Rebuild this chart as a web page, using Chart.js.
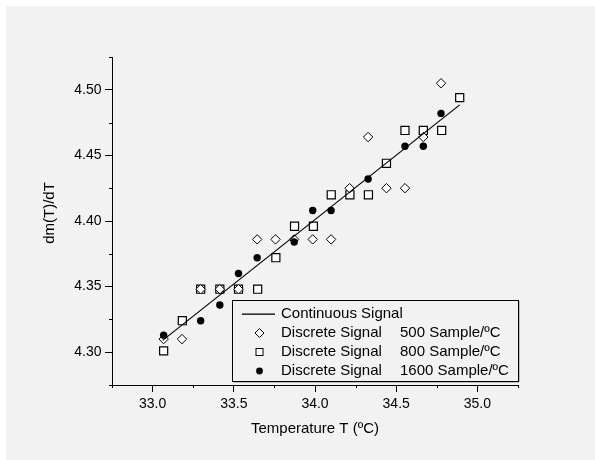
<!DOCTYPE html>
<html>
<head>
<meta charset="utf-8">
<script src="https://cdn.jsdelivr.net/npm/chart.js@4/dist/chart.umd.min.js"></script>
<style>
  html, body { margin: 0; padding: 0; background: #fff; }
  #wrap { width: 595px; height: 460px; }
</style>
</head>
<body>
<div id="wrap"><canvas id="slopeChart" width="595" height="460"></canvas></div>
<script>
// --- data ---
const xTickLabels = ['33.0', '33.5', '34.0', '34.5', '35.0'];
const yTickLabels = ['4.30', '4.35', '4.40', '4.45', '4.50'];

const seriesNames = ['Continuous Signal', 'Discrete Signal', 'Discrete Signal', 'Discrete Signal'];
const sampleRates = ['', '500 Sample/\u00baC', '800 Sample/\u00baC', '1600 Sample/\u00baC'];

// continuous signal (straight fit line)
const tempLine = [33.062, 34.891];
const slopeLine = [4.309, 4.4885];

// 500 samples / ºC
const temp500 = [33.068, 33.181, 33.296, 33.414, 33.529, 33.644, 33.757, 33.872, 33.986, 34.099, 34.213, 34.327, 34.440, 34.554, 34.667, 34.776];
const slope500 = [4.310, 4.310, 4.348, 4.348, 4.348, 4.386, 4.386, 4.386, 4.386, 4.386, 4.425, 4.464, 4.425, 4.425, 4.464, 4.505];

// 800 samples / ºC
const temp800 = [33.068, 33.183, 33.296, 33.414, 33.529, 33.647, 33.759, 33.874, 33.990, 34.100, 34.215, 34.329, 34.440, 34.554, 34.667, 34.780, 34.891];
const slope800 = [4.301, 4.324, 4.348, 4.348, 4.348, 4.348, 4.372, 4.396, 4.396, 4.420, 4.420, 4.420, 4.444, 4.469, 4.469, 4.469, 4.494];

// 1600 samples / ºC
const temp1600 = [33.068, 33.296, 33.414, 33.529, 33.644, 33.872, 33.986, 34.099, 34.327, 34.554, 34.667, 34.776];
const slope1600 = [4.313, 4.324, 4.336, 4.360, 4.372, 4.384, 4.408, 4.408, 4.432, 4.457, 4.457, 4.482];

const toPoints = (xs, ys) => xs.map((x, i) => ({ x: x, y: ys[i] }));

const FONT = 'Arial, "Liberation Sans", sans-serif';

// background, minor ticks, y title and the boxed legend
const decor = {
  id: 'decor',
  beforeDraw(chart) {
    const ctx = chart.ctx;
    ctx.save();
    ctx.fillStyle = '#ffffff';
    ctx.fillRect(0, 0, chart.width, chart.height);
    ctx.fillStyle = '#f2f2f2';
    ctx.fillRect(6, 6, chart.width - 6, chart.height - 6);
    ctx.restore();
  },
  afterDraw(chart) {
    const ctx = chart.ctx;
    const xs = chart.scales.x, ys = chart.scales.y;
    const area = chart.chartArea;
    ctx.save();
    ctx.strokeStyle = '#000';
    ctx.lineWidth = 1;
    // minor ticks (half way between labelled ticks)
    ctx.beginPath();
    for (let k = 0; k <= 10; k += 2) {
      const px = Math.round(xs.getPixelForValue(xs.min + k * 0.25)) + 0.5;
      ctx.moveTo(px, area.bottom);
      ctx.lineTo(px, area.bottom + 3);
    }
    for (let k = 0; k <= 10; k += 2) {
      const py = Math.round(ys.getPixelForValue(ys.min + k * 0.025)) + 0.5;
      ctx.moveTo(area.left, py);
      ctx.lineTo(area.left - 3, py);
    }
    ctx.stroke();

    // y axis title
    ctx.fillStyle = '#000';
    ctx.font = '15px ' + FONT;
    ctx.textAlign = 'center';
    ctx.textBaseline = 'middle';
    ctx.translate(50, 213);
    ctx.rotate(-Math.PI / 2);
    ctx.fillText('dm(T)/dT', 0, 0);
    ctx.restore();

    // legend box
    ctx.save();
    const bx = 232, by = 300, bw = 286, bh = 81;
    ctx.fillStyle = '#8c8c8c';
    ctx.fillRect(bx + 1, by + bh, bw, 1.5);
    ctx.fillRect(bx + bw, by + 1, 1.5, bh);
    ctx.strokeStyle = '#000';
    ctx.lineWidth = 1;
    ctx.strokeRect(bx + 0.5, by + 0.5, bw, bh);

    ctx.font = '15px ' + FONT;
    ctx.textBaseline = 'middle';
    ctx.textAlign = 'left';
    chart.data.datasets.forEach((ds, i) => {
      const ry = 314 + i * 19;
      const sx = 259.5;
      ctx.strokeStyle = '#000';
      ctx.fillStyle = '#fff';
      if (i === 0) {
        ctx.fillStyle = '#000';
        ctx.fillRect(242, ry - 0.5, 33, 1.3);
      } else if (ds.pointStyle === 'rectRot') {
        ctx.lineWidth = 1;
        ctx.beginPath();
        ctx.moveTo(sx, ry - 4.5); ctx.lineTo(sx + 4.5, ry);
        ctx.lineTo(sx, ry + 4.5); ctx.lineTo(sx - 4.5, ry);
        ctx.closePath();
        ctx.fill(); ctx.stroke();
      } else if (ds.pointStyle === 'rect') {
        ctx.lineWidth = 1;
        ctx.fillRect(sx - 3.5, ry - 3.5, 7, 7);
        ctx.strokeRect(sx - 3.5, ry - 3.5, 7, 7);
      } else {
        ctx.fillStyle = '#000';
        ctx.beginPath();
        ctx.arc(sx, ry, 3.4, 0, Math.PI * 2);
        ctx.fill();
      }
      ctx.fillStyle = '#000';
      ctx.fillText(seriesNames[i], 281, ry);
      if (sampleRates[i]) ctx.fillText(sampleRates[i], 400, ry);
    });
    ctx.restore();
  }
};

new Chart(document.getElementById('slopeChart'), {
  type: 'scatter',
  data: {
    datasets: [
      {
        label: seriesNames[0],
        data: toPoints(tempLine, slopeLine),
        showLine: true,
        borderColor: '#000',
        borderWidth: 1.2,
        pointRadius: 0,
        order: 1
      },
      {
        label: seriesNames[1] + ' ' + sampleRates[1],
        data: toPoints(temp500, slope500),
        pointStyle: 'rectRot',
        pointRadius: 4.7,
        backgroundColor: '#fff',
        borderColor: '#000',
        borderWidth: 1,
        order: 2
      },
      {
        label: seriesNames[2] + ' ' + sampleRates[2],
        data: toPoints(temp800, slope800),
        pointStyle: 'rect',
        pointRadius: 5.7,
        backgroundColor: '#fff',
        borderColor: '#000',
        borderWidth: 1.2,
        order: 3
      },
      {
        label: seriesNames[3] + ' ' + sampleRates[3],
        data: toPoints(temp1600, slope1600),
        pointStyle: 'circle',
        pointRadius: 3.7,
        backgroundColor: '#000',
        borderColor: '#000',
        borderWidth: 0,
        order: 0
      }
    ]
  },
  options: {
    responsive: false,
    animation: false,
    devicePixelRatio: 1,
    layout: { padding: { top: 57, right: 77, left: 0, bottom: 0 } },
    plugins: {
      legend: { display: false },
      tooltip: { enabled: false }
    },
    scales: {
      x: {
        type: 'linear',
        min: 32.75,
        max: 35.25,
        afterBuildTicks: (scale) => {
          scale.ticks = xTickLabels.map(t => ({ value: parseFloat(t) }));
        },
        afterFit: (scale) => { scale.height = 75; },
        ticks: {
          color: '#000',
          font: { family: FONT, size: 14 },
          padding: 4,
          maxRotation: 0,
          callback: (v) => Number(v).toFixed(1)
        },
        grid: { drawOnChartArea: false, drawTicks: true, tickLength: 7, color: '#000', lineWidth: 1 },
        border: { display: true, color: '#000', width: 1 },
        title: {
          display: true,
          text: 'Temperature T (\u00baC)',
          color: '#000',
          font: { family: FONT, size: 15 },
          padding: { top: 0, bottom: 22 }
        }
      },
      y: {
        type: 'linear',
        min: 4.275,
        max: 4.525,
        afterBuildTicks: (scale) => {
          scale.ticks = yTickLabels.map(t => ({ value: parseFloat(t) }));
        },
        afterFit: (scale) => { scale.width = 112; },
        ticks: {
          color: '#000',
          font: { family: FONT, size: 14 },
          padding: 3.5,
          callback: (v) => Number(v).toFixed(2)
        },
        grid: { drawOnChartArea: false, drawTicks: true, tickLength: 7, color: '#000', lineWidth: 1 },
        border: { display: true, color: '#000', width: 1 }
      }
    }
  },
  plugins: [decor]
});
</script>
</body>
</html>
